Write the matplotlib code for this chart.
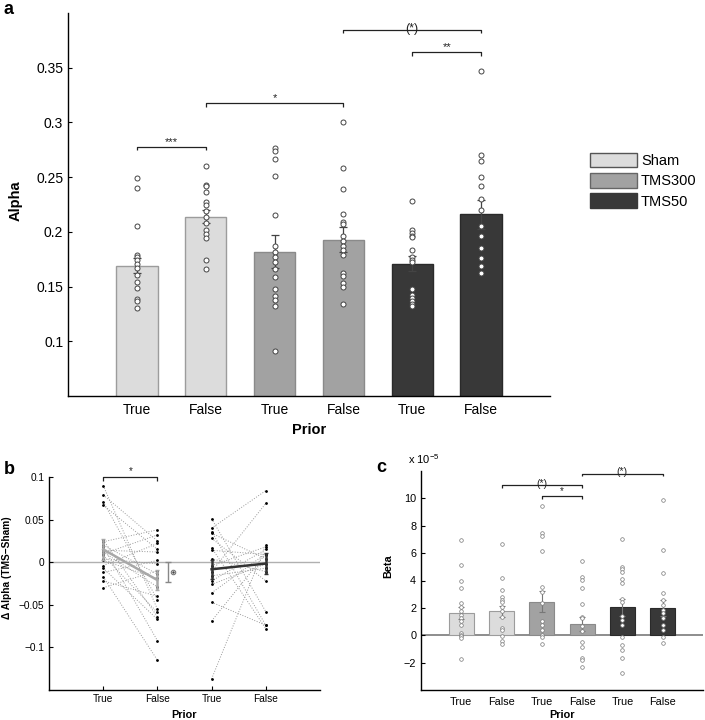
"""
Alpha / Beta parameters per TMS condition (panels a, b, c)
"""

import numpy as np
import matplotlib
matplotlib.use('Agg')
import matplotlib.pyplot as plt
from matplotlib.patches import Patch

plt.rcParams['font.family'] = ['Liberation Sans', 'DejaVu Sans']
plt.rcParams['axes.unicode_minus'] = True

conditions = ['Sham', 'TMS300', 'TMS50']
prior_labels = ['True', 'False', 'True', 'False', 'True', 'False']

# ---- panel a: alpha ----
alpha_mean = [0.169, 0.214, 0.182, 0.193, 0.171, 0.216]
alpha_sem = [0.007, 0.006, 0.015, 0.0115, 0.007, 0.013]
alpha_sham_true = [0.249, 0.240, 0.205, 0.179, 0.177, 0.174, 0.171, 0.167, 0.161,
                   0.154, 0.149, 0.139, 0.137, 0.130]
alpha_sham_false = [0.260, 0.243, 0.242, 0.236, 0.227, 0.225, 0.219, 0.214, 0.208,
                    0.202, 0.198, 0.194, 0.174, 0.166]
alpha_t300_true = [0.277, 0.274, 0.267, 0.251, 0.215, 0.187, 0.182, 0.177, 0.172,
                   0.166, 0.159, 0.148, 0.141, 0.138, 0.132, 0.091]
alpha_t300_false = [0.300, 0.258, 0.239, 0.216, 0.209, 0.207, 0.196, 0.192, 0.187,
                    0.183, 0.179, 0.162, 0.160, 0.153, 0.150, 0.134]
alpha_t50_true = [0.228, 0.202, 0.199, 0.196, 0.195, 0.183, 0.177, 0.174, 0.172,
                  0.148, 0.142, 0.140, 0.137, 0.134, 0.132]
alpha_t50_false = [0.347, 0.270, 0.265, 0.250, 0.242, 0.230, 0.220, 0.205, 0.196,
                   0.185, 0.176, 0.169, 0.162]

# ---- panel b: delta alpha (TMS - Sham), paired True/False ----
d300_true = [0.090, 0.079, 0.071, 0.067, 0.026, 0.024, 0.020, 0.018, 0.014, 0.012,
             0.010, 0.008, 0.004, 0.002, -0.004, -0.007, -0.012, -0.017, -0.022, -0.030]
d300_false = [-0.055, 0.025, -0.044, 0.015, -0.064, 0.038, -0.014, -0.092, 0.012, -0.029,
              0.032, -0.059, -0.002, -0.019, 0.022, -0.067, 0.002, -0.115, -0.040, -0.010]
d50_true = [0.051, 0.040, 0.036, 0.034, 0.028, 0.017, 0.014, 0.004, -0.004, -0.011,
            -0.016, -0.022, -0.026, -0.036, -0.047, -0.069, -0.137]
d50_false = [-0.058, 0.084, -0.074, 0.004, -0.022, -0.078, 0.009, -0.011, 0.018, 0.069,
             -0.007, 0.015, -0.002, 0.010, -0.074, 0.010, 0.020]
d300_mean = [0.015, -0.021]
d300_sem = [0.012, 0.012]
d50_mean = [-0.0083, -0.0016]
d50_sem = [0.011, 0.012]
diff_mean = -0.0115
diff_sem = 0.0115

# ---- panel c: beta (x 1e-5) ----
beta_mean = [1.64, 1.74, 2.46, 0.82, 2.03, 1.98]
beta_sem = [0.46, 0.43, 0.78, 0.48, 0.63, 0.60]
beta_sham_true = [6.93, 5.12, 3.96, 3.48, 2.39, 2.10, 1.79, 1.50, 1.26, 1.01, 0.77,
                  0.17, 0.05, -0.07, -0.19, -1.71]
beta_sham_false = [6.64, 4.15, 3.31, 2.83, 2.58, 2.46, 2.03, 1.74, 1.30, 0.53, 0.41,
                   -0.07, -0.43, -0.63]
beta_t300_true = [9.47, 7.49, 7.25, 6.14, 3.53, 3.19, 2.34, 1.01, 0.72, 0.41, 0.05,
                  -0.12, -0.63]
beta_t300_false = [5.41, 4.27, 4.03, 3.48, 2.27, 1.30, 1.26, 0.65, 0.34, -0.51, -0.87,
                   -1.64, -1.84, -2.30]
beta_t50_true = [7.00, 5.00, 4.83, 4.64, 4.11, 3.84, 2.66, 2.46, 1.38, 1.14, 0.77,
                 -0.14, -0.72, -1.11, -1.64, -2.73]
beta_t50_false = [9.90, 6.21, 4.52, 3.07, 2.58, 2.22, 1.86, 1.62, 1.26, 0.77, 0.41,
                  -0.14, -0.56]

fills = ['#dcdcdc', '#dcdcdc', '#a2a2a2', '#a2a2a2', '#383838', '#383838']
edges = ['#9c9c9c', '#9c9c9c', '#8a8a8a', '#8a8a8a', '#2a2a2a', '#2a2a2a']


def bracket(ax, x1, x2, y, h, label, fs, on_line=False, dy=0.0):
    ax.plot([x1, x1, x2, x2], [y - h, y, y, y - h], color='#222222', lw=0.9,
            solid_capstyle='butt', clip_on=False)
    va = 'center' if on_line else 'baseline'
    ax.text((x1 + x2) / 2, y + dy, label, ha='center', va=va, fontsize=fs,
            color='#222222')


def style_axes(ax, fs):
    for s in ['top', 'right']:
        ax.spines[s].set_visible(False)
    ax.spines['left'].set_linewidth(1.0)
    ax.spines['bottom'].set_linewidth(1.0)
    ax.tick_params(direction='in', labelsize=fs, length=3, width=0.8)


fig = plt.figure(figsize=(7.05, 7.2), dpi=100)

# ================= panel a =================
ax = fig.add_axes([68 / 705, 1 - 396 / 720, 482 / 705, 383 / 720])
x = np.arange(1, 7)
alpha_pts = [alpha_sham_true, alpha_sham_false, alpha_t300_true, alpha_t300_false,
             alpha_t50_true, alpha_t50_false]
ax.bar(x, alpha_mean, width=0.6, bottom=0, color=fills, edgecolor=edges, linewidth=1.0,
       zorder=1)
ax.errorbar(x, alpha_mean, yerr=alpha_sem, fmt='none', ecolor='#444444', elinewidth=0.9,
            capsize=3, capthick=0.9, zorder=2)
for xi, pts in zip(x, alpha_pts):
    ax.plot([xi] * len(pts), pts, 'o', ms=3.6, mfc='white', mec='#444444', mew=0.7,
            zorder=3, clip_on=False)
ax.set_xlim(0, 7)
ax.set_ylim(0.05, 0.4)
ax.set_yticks([0.1, 0.15, 0.2, 0.25, 0.3, 0.35])
ax.set_yticklabels(['0.1', '0.15', '0.2', '0.25', '0.3', '0.35'])
ax.set_xticks(x)
ax.set_xticklabels(prior_labels)
style_axes(ax, 10)
ax.tick_params(axis='x', length=0, pad=5)
ax.set_ylabel('Alpha', fontsize=10.5, fontweight='bold')
ax.yaxis.set_label_coords(-0.095, 0.51)
ax.set_xlabel('Prior', fontsize=10.5, fontweight='bold', labelpad=4)

bracket(ax, 1, 2, 0.2775, 0.003, '***', 8, dy=0.002)
bracket(ax, 2, 4, 0.3175, 0.003, '*', 8, dy=0.002)
bracket(ax, 5, 6, 0.364, 0.003, '**', 8, dy=0.002)
bracket(ax, 4, 6, 0.3843, 0.003, '(*)', 9, on_line=True, dy=0.0015)

handles = [Patch(facecolor='#dcdcdc', edgecolor='#555555', lw=1.0),
           Patch(facecolor='#a2a2a2', edgecolor='#666666', lw=1.0),
           Patch(facecolor='#383838', edgecolor='#383838', lw=1.0)]
fig.legend(handles, conditions, loc='upper left', bbox_to_anchor=(584 / 705, 1 - 147 / 720),
           frameon=False, fontsize=10.5, handlelength=3.2, handleheight=1.15,
           labelspacing=0.35, handletextpad=0.3, borderaxespad=0)

fig.text(4 / 705, 1 - 10 / 720, 'a', fontsize=13, fontweight='bold', va='center')

# ================= panel b =================
axb = fig.add_axes([49 / 705, 1 - 690 / 720, 271 / 705, 213 / 720])
axb.axhline(0, color='#b0b0b0', lw=1.0, zorder=0)
for t, f in zip(d300_true, d300_false):
    axb.plot([1, 2], [t, f], ':', color='#9a9a9a', lw=0.7, zorder=1)
for t, f in zip(d50_true, d50_false):
    axb.plot([3, 4], [t, f], ':', color='#9a9a9a', lw=0.7, zorder=1)
axb.plot([1] * len(d300_true), d300_true, '.', color='k', ms=2, zorder=2)
axb.plot([2] * len(d300_false), d300_false, '.', color='k', ms=2, zorder=2)
axb.plot([3] * len(d50_true), d50_true, '.', color='k', ms=2, zorder=2)
axb.plot([4] * len(d50_false), d50_false, '.', color='k', ms=2, zorder=2)
axb.errorbar([1, 2], d300_mean, yerr=d300_sem, color='#a8a8a8', lw=1.8, elinewidth=1.8,
             capsize=1.5, zorder=3)
axb.errorbar([3, 4], d50_mean, yerr=d50_sem, color='#333333', lw=1.8, elinewidth=1.8,
             capsize=1.5, zorder=3)
axb.errorbar([2.2], [diff_mean], yerr=[diff_sem], fmt='none', ecolor='#888888',
             elinewidth=1.0, capsize=2.5, zorder=3)
axb.plot([2.29], [diff_mean], 'o', ms=3.2, mfc='white', mec='#777777', mew=0.8, zorder=4)
axb.plot([2.29], [diff_mean], '.', ms=1.5, color='#444444', zorder=5)
axb.set_xlim(0, 5)
axb.set_ylim(-0.15, 0.1)
axb.set_yticks([-0.1, -0.05, 0, 0.05, 0.1])
axb.set_yticklabels(['\u22120.1', '\u22120.05', '0', '0.05', '0.1'])
axb.set_xticks([1, 2, 3, 4])
axb.set_xticklabels(['True', 'False', 'True', 'False'])
style_axes(axb, 7.3)
axb.tick_params(axis='x', pad=3)
axb.set_ylabel('\u0394 Alpha (TMS\u2212Sham)', fontsize=7.3, fontweight='bold')
axb.yaxis.set_label_coords(-0.135, 0.573)
axb.set_xlabel('Prior', fontsize=7.8, fontweight='bold', labelpad=4)
bracket(axb, 1, 2, 0.1, 0.005, '*', 7, dy=0.004)

fig.text(4 / 705, 1 - 470 / 720, 'b', fontsize=13, fontweight='bold', va='center')

# ================= panel c =================
axc = fig.add_axes([421 / 705, 1 - 690 / 720, 282 / 705, 219 / 720])
beta_pts = [beta_sham_true, beta_sham_false, beta_t300_true, beta_t300_false,
            beta_t50_true, beta_t50_false]
axc.axhline(0, color='#7a7a7a', lw=1.2, zorder=0)
axc.bar(x, beta_mean, width=0.62, color=fills, edgecolor=edges, linewidth=0.8, zorder=1)
axc.errorbar(x, beta_mean, yerr=beta_sem, fmt='none', ecolor='#777777', elinewidth=0.8,
             capsize=2, capthick=0.8, zorder=2)
for xi, pts in zip(x, beta_pts):
    axc.plot([xi] * len(pts), pts, 'o', ms=2.6, mfc='white', mec='#777777', mew=0.5,
             zorder=3)
axc.set_xlim(0, 7)
axc.set_ylim(-4, 12)
axc.set_yticks([-2, 0, 2, 4, 6, 8, 10])
axc.set_yticklabels(['\u22122', '0', '2', '4', '6', '8', '10'])
axc.set_xticks(x)
axc.set_xticklabels(prior_labels)
style_axes(axc, 7.8)
axc.tick_params(axis='x', length=0, pad=5)
axc.set_ylabel('Beta', fontsize=7.8, fontweight='bold')
axc.yaxis.set_label_coords(-0.099, 0.566)
axc.set_xlabel('Prior', fontsize=7.8, fontweight='bold', labelpad=2)
axc.text(-0.045, 1.025, r'x 10$^{\mathregular{-5}}$', transform=axc.transAxes, fontsize=8,
         ha='left', va='bottom')
bracket(axc, 2, 4, 10.96, 0.2, '(*)', 7.5, on_line=True, dy=0.1)
bracket(axc, 3, 4, 10.19, 0.2, '*', 7, dy=0.15)
bracket(axc, 4, 6, 11.8, 0.2, '(*)', 7.5, on_line=True, dy=0.1)

fig.text(376 / 705, 1 - 468 / 720, 'c', fontsize=13, fontweight='bold', va='center')

fig.savefig('out.png', dpi=100)
